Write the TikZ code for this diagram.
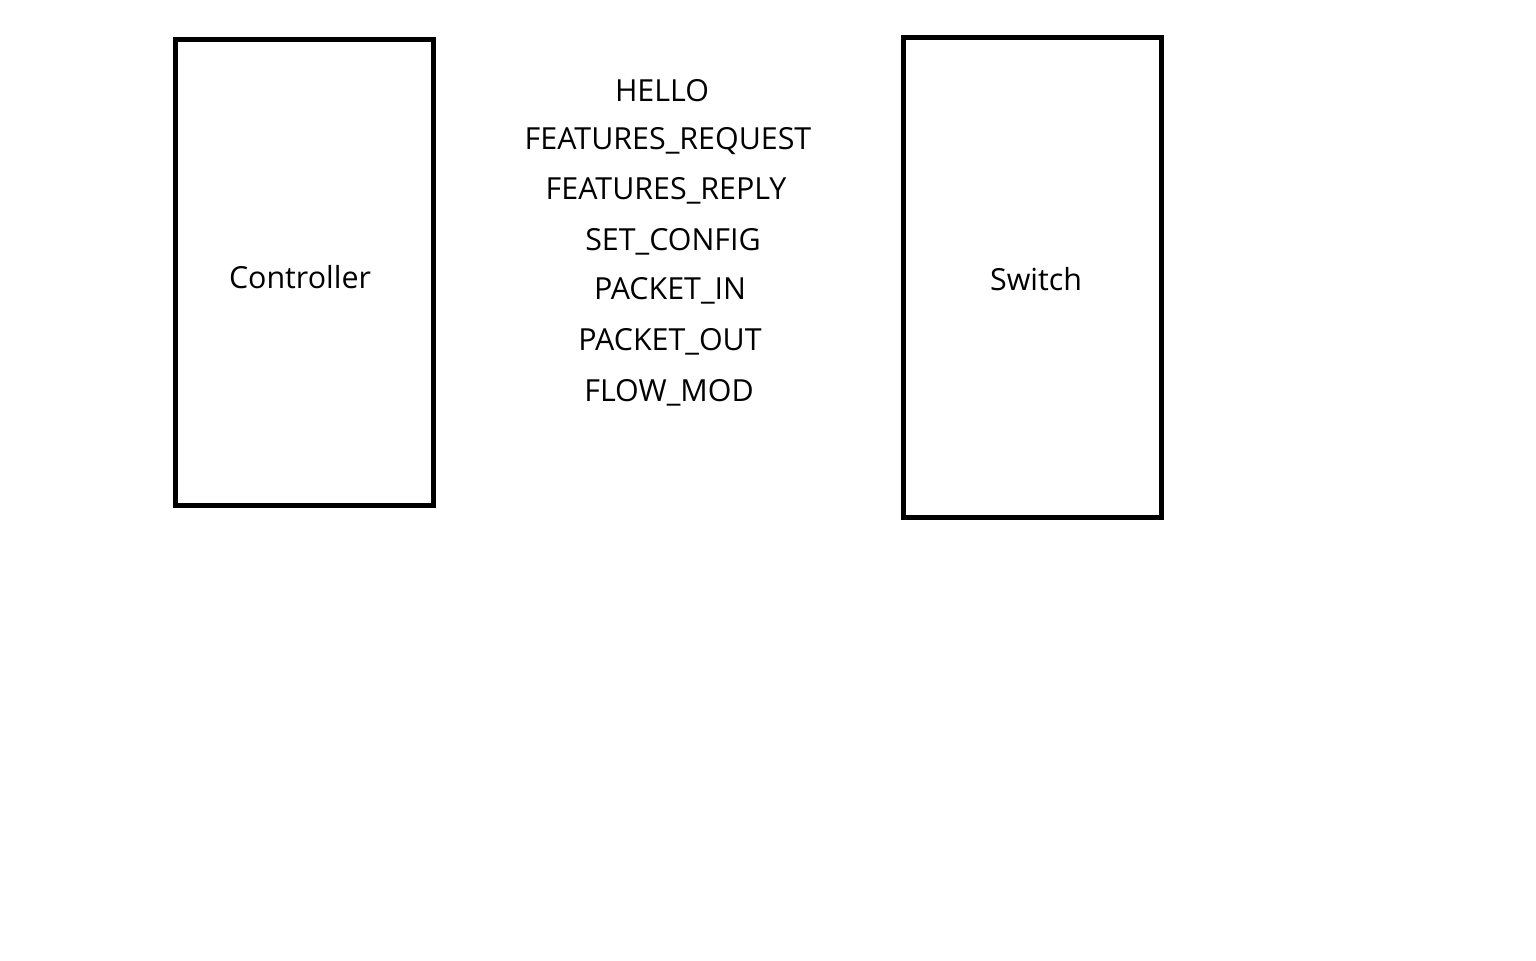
\documentclass[tikz,border=0pt]{standalone}
\usepackage{fontspec}
\setmainfont{Open Sans}
\begin{document}
\begin{tikzpicture}[x=0.5pt,y=-0.5pt,
  box/.style={draw=black,line width=2.5pt,fill=white},
  lbl/.style={font=\fontsize{15.2}{18}\selectfont,inner sep=0pt,anchor=base}]
\useasboundingbox[fill=white] (0,0) rectangle (1536,960);
\draw[box] (175.5,39.5) rectangle (433.5,505.5);
\draw[box] (903.5,37.5) rectangle (1161.5,517.5);
\node[lbl] (ctrl) at (300,288) {Controller};
\node[lbl] (sw) at (1036,290) {Switch};
\node[lbl] (m1) at (662,101) {HELLO};
\node[lbl] (m2) at (668,149) {FEATURES\_REQUEST};
\node[lbl] (m3) at (666,199) {FEATURES\_REPLY};
\node[lbl] (m4) at (673,250) {SET\_CONFIG};
\node[lbl] (m5) at (670,299) {PACKET\_IN};
\node[lbl] (m6) at (670,350) {PACKET\_OUT};
\node[lbl] (m7) at (669,401) {FLOW\_MOD};
\end{tikzpicture}
\end{document}
